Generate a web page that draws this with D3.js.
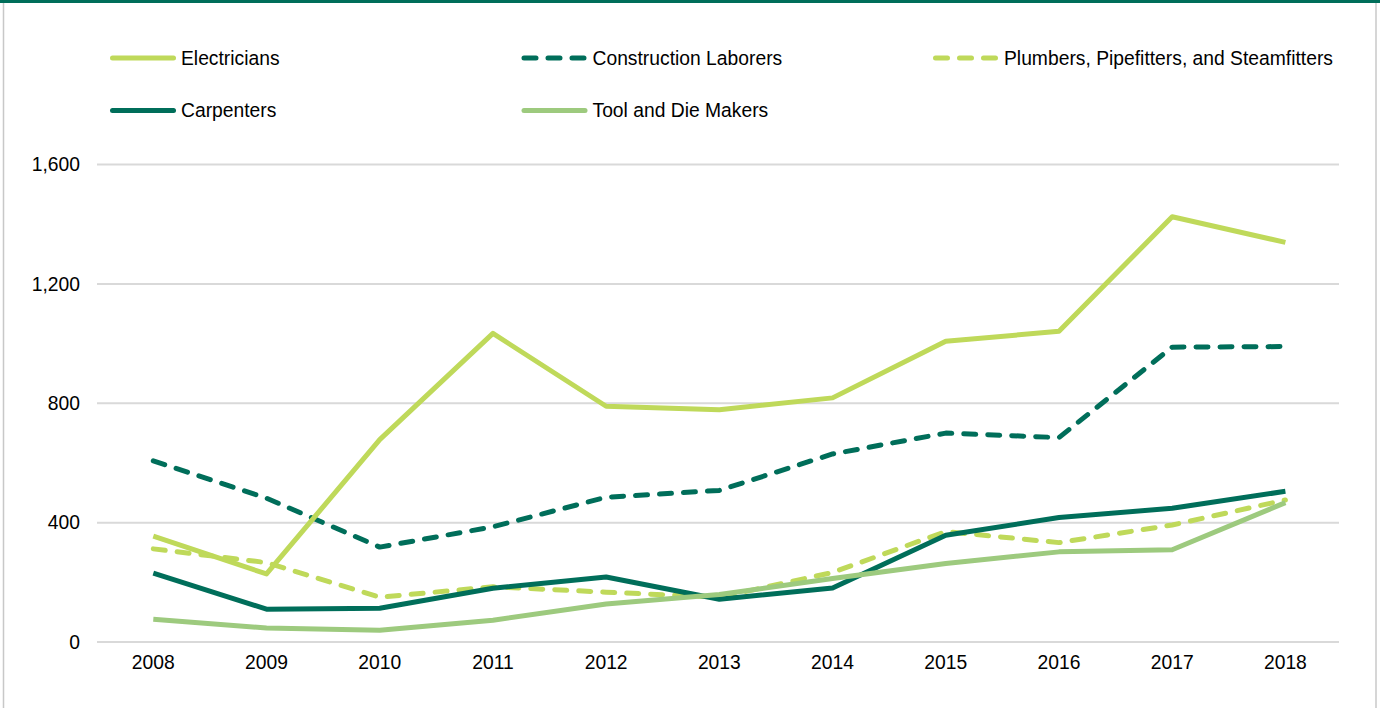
<!DOCTYPE html>
<html>
<head>
<meta charset="utf-8">
<script src="https://cdn.jsdelivr.net/npm/d3@7"></script>
<style>
  html, body { margin: 0; padding: 0; background: #fff; }
  svg { display: block; font-family: "Liberation Sans", Arial, sans-serif; }
</style>
</head>
<body>
<svg id="chart" width="1380" height="708"></svg>
<script>
const years = ["2008","2009","2010","2011","2012","2013","2014","2015","2016","2017","2018"];
const electricians = [355, 228, 678, 1034, 790, 778, 818, 1008, 1041, 1425, 1339];
const constructionLaborers = [607, 482, 318, 386, 485, 508, 630, 700, 685, 988, 990];
const plumbers = [312, 266, 150, 185, 167, 150, 233, 370, 333, 392, 476];
const carpenters = [231, 110, 113, 180, 218, 143, 181, 358, 417, 448, 505];
const toolDieMakers = [76, 47, 39, 73, 127, 159, 213, 263, 302, 309, 467];
const yTicks = [0, 400, 800, 1200, 1600];

const DARK = "#006e5a", LIME = "#bfd95a", LEAF = "#9dca7e";

const series = [
  { name: "Electricians", values: electricians, color: LIME, dash: null },
  { name: "Construction Laborers", values: constructionLaborers, color: DARK, dash: "12,12" },
  { name: "Plumbers, Pipefitters, and Steamfitters", values: plumbers, color: LIME, dash: "12,12" },
  { name: "Carpenters", values: carpenters, color: DARK, dash: null },
  { name: "Tool and Die Makers", values: toolDieMakers, color: LEAF, dash: null }
];
const drawOrder = [2, 1, 0, 3, 4];

const svg = d3.select("#chart");

// frame
svg.append("rect").attr("x", 0).attr("y", 0).attr("width", 1380).attr("height", 3).attr("fill", DARK);
svg.append("line").attr("x1", 3.5).attr("x2", 3.5).attr("y1", 3).attr("y2", 708)
  .attr("stroke", "#c8c8c8").attr("stroke-width", 1.5);
svg.append("line").attr("x1", 1376).attr("x2", 1376).attr("y1", 3).attr("y2", 708)
  .attr("stroke", "#c8c8c8").attr("stroke-width", 1.5);

const x = d3.scaleBand().domain(years).range([96.7, 1342]);
const y = d3.scaleLinear().domain([0, 1600]).range([642, 164.5]);

// gridlines
svg.append("g").selectAll("line").data(yTicks).join("line")
  .attr("x1", 97).attr("x2", 1339)
  .attr("y1", d => y(d)).attr("y2", d => y(d))
  .attr("stroke", "#d9d9d9").attr("stroke-width", 2);

// y axis labels
const yAxis = d3.axisLeft(y).tickValues(yTicks).tickFormat(d3.format(",")).tickSize(0).tickPadding(0);
const yg = svg.append("g").attr("transform", "translate(80,0)").call(yAxis);
yg.select(".domain").remove();
yg.selectAll("text").attr("font-size", 19.3).attr("fill", "#000")
  .attr("font-family", "'Liberation Sans', Arial, sans-serif");

// x axis labels
const xAxis = d3.axisBottom(x).tickSize(0).tickPadding(0);
const xg = svg.append("g").attr("transform", "translate(0,655.5)").call(xAxis);
xg.select(".domain").remove();
xg.selectAll("text").attr("font-size", 19.3).attr("fill", "#000")
  .attr("font-family", "'Liberation Sans', Arial, sans-serif");

// lines
const line = d3.line()
  .x((d, i) => x(years[i]) + x.bandwidth() / 2)
  .y(d => y(d));

drawOrder.forEach(k => {
  const s = series[k];
  svg.append("path")
    .datum(s.values)
    .attr("d", line)
    .attr("fill", "none")
    .attr("stroke", s.color)
    .attr("stroke-width", 5)
    .attr("stroke-linejoin", "round")
    .attr("stroke-linecap", s.dash ? "round" : "butt")
    .attr("stroke-dasharray", s.dash);
});

// legend
const legendPos = [
  { x: 110, y: 58 }, { x: 521.5, y: 58 }, { x: 933, y: 58 },
  { x: 110, y: 110.5 }, { x: 521.5, y: 110.5 }
];
series.forEach((s, i) => {
  const p = legendPos[i];
  const g = svg.append("g").attr("transform", `translate(${p.x},${p.y})`);
  g.append("line")
    .attr("x1", 2.5).attr("x2", 63.5).attr("y1", 0).attr("y2", 0)
    .attr("stroke", s.color).attr("stroke-width", 5)
    .attr("stroke-linecap", "round")
    .attr("stroke-dasharray", s.dash);
  g.append("text")
    .attr("x", 71).attr("y", 0).attr("dy", "0.35em")
    .attr("font-size", 19.3).attr("fill", "#000")
    .text(s.name);
});
</script>
</body>
</html>
